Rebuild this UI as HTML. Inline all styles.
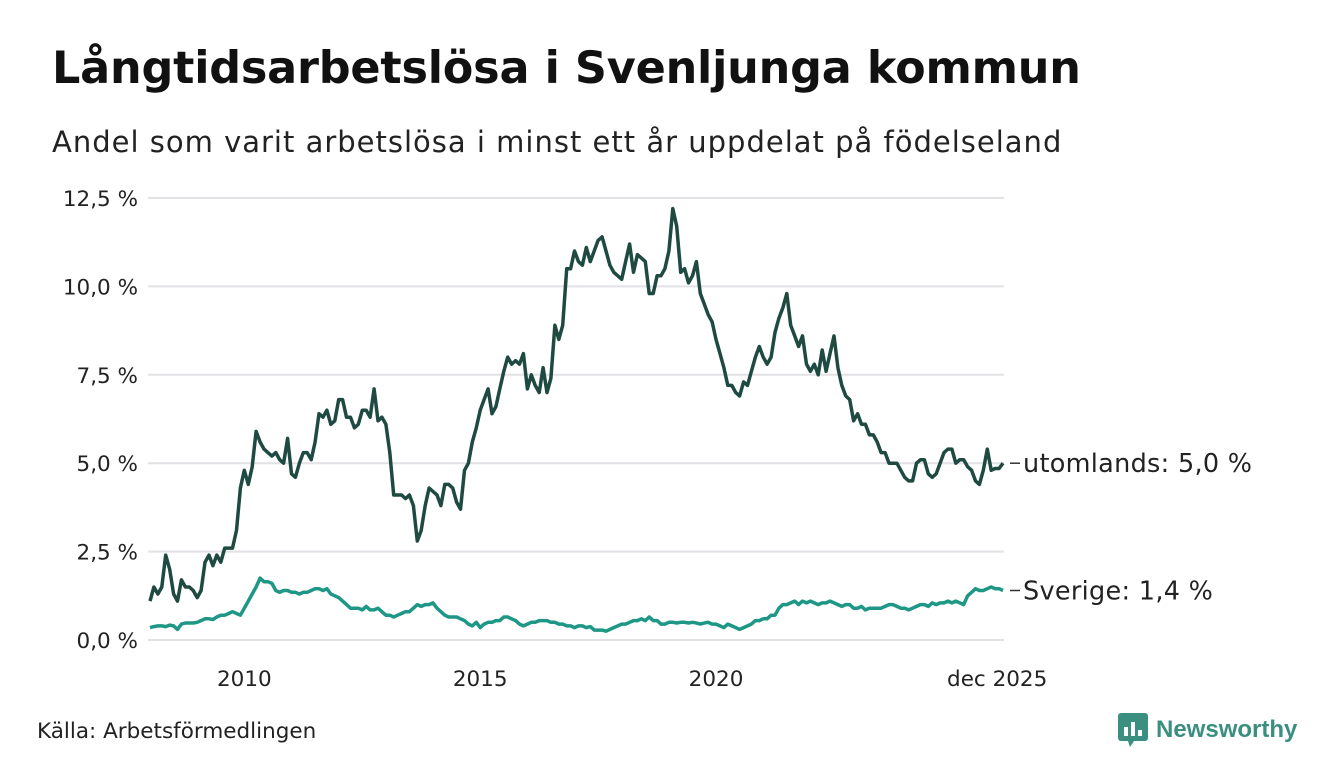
<!DOCTYPE html>
<html><head><meta charset="utf-8">
<style>
body{margin:0;background:#fff;font-family:"DejaVu Sans","Liberation Sans",sans-serif;}
#wrap{position:relative;width:1340px;height:780px;overflow:hidden;background:#fff}
h1{position:absolute;left:52px;top:43px;margin:0;font-size:44.5px;font-weight:bold;color:#111;font-family:"DejaVu Sans",sans-serif;letter-spacing:-0.2px}
.sub{position:absolute;left:52px;top:125px;font-size:29px;color:#222;font-family:"DejaVu Sans",sans-serif;letter-spacing:1px}
.src{position:absolute;left:37px;top:719px;font-size:21.5px;color:#222;font-family:"DejaVu Sans",sans-serif}
.logo{position:absolute;left:1118px;top:713px;display:flex;align-items:center;gap:8px}
.logo span{font-size:24px;font-weight:bold;color:#3a8f80;font-family:"Liberation Sans",sans-serif}
</style></head><body>
<div id="wrap">
<h1>Långtidsarbetslösa i Svenljunga kommun</h1>
<div class="sub">Andel som varit arbetslösa i minst ett år uppdelat på födelseland</div>
<svg id="chart" width="1340" height="780" style="position:absolute;left:0;top:0"></svg>
<div class="src">Källa: Arbetsförmedlingen</div>
<div class="logo">
<svg width="30" height="34" viewBox="0 0 30 34"><rect x="0" y="0" width="30" height="28" rx="3" fill="#3a8f80"/><polygon points="10,28 16,28 12,34" fill="#3a8f80"/><rect x="6" y="14" width="4" height="9" fill="#fff"/><rect x="13" y="9" width="4" height="14" fill="#fff"/><rect x="20" y="17" width="4" height="6" fill="#fff"/></svg>
<span>Newsworthy</span></div>
</div>
<script>
const yTicks=[0,2.5,5,7.5,10,12.5];
const yTickLabels=["0,0 %","2,5 %","5,0 %","7,5 %","10,0 %","12,5 %"];
const xTicks=[2010,2015,2020,2025.96];
const xTickLabels=["2010","2015","2020","dec 2025"];
const startYear=2008;
const utomlands=[1.1,1.5,1.3,1.5,2.4,2.0,1.3,1.1,1.7,1.5,1.5,1.4,
1.2,1.4,2.2,2.4,2.1,2.4,2.2,2.6,2.6,2.6,3.1,4.3,
4.8,4.4,4.9,5.9,5.6,5.4,5.3,5.2,5.3,5.1,5.0,5.7,
4.7,4.6,5.0,5.3,5.3,5.1,5.6,6.4,6.3,6.5,6.1,6.2,
6.8,6.8,6.3,6.3,6.0,6.1,6.5,6.5,6.3,7.1,6.2,6.3,
6.1,5.3,4.1,4.1,4.1,4.0,4.1,3.8,2.8,3.1,3.8,4.3,
4.2,4.1,3.8,4.4,4.4,4.3,3.9,3.7,4.8,5.0,5.6,6.0,
6.5,6.8,7.1,6.4,6.6,7.1,7.6,8.0,7.8,7.9,7.8,8.1,
7.1,7.5,7.2,7.0,7.7,7.0,7.4,8.9,8.5,8.9,10.5,10.5,
11.0,10.7,10.6,11.1,10.7,11.0,11.3,11.4,11.0,10.6,10.4,10.3,
10.2,10.7,11.2,10.4,10.9,10.8,10.7,9.8,9.8,10.3,10.3,10.5,
11.0,12.2,11.7,10.4,10.5,10.1,10.3,10.7,9.8,9.5,9.2,9.0,
8.5,8.1,7.7,7.2,7.2,7.0,6.9,7.3,7.2,7.6,8.0,8.3,
8.0,7.8,8.0,8.7,9.1,9.4,9.8,8.9,8.6,8.3,8.6,7.8,
7.6,7.8,7.5,8.2,7.6,8.1,8.6,7.7,7.2,6.9,6.8,6.2,
6.4,6.1,6.1,5.8,5.8,5.6,5.3,5.3,5.0,5.0,5.0,4.8,
4.6,4.5,4.5,5.0,5.1,5.1,4.7,4.6,4.7,5.0,5.3,5.4,
5.4,5.0,5.1,5.1,4.9,4.8,4.5,4.4,4.8,5.4,4.8,4.85,4.85,5.0];
const sverige=[0.35,0.38,0.4,0.4,0.38,0.42,0.4,0.3,0.45,0.48,0.48,0.48,
0.5,0.55,0.6,0.6,0.58,0.65,0.7,0.7,0.75,0.8,0.75,0.7,
0.9,1.1,1.3,1.5,1.75,1.65,1.65,1.6,1.4,1.35,1.4,1.4,
1.35,1.35,1.3,1.35,1.35,1.4,1.45,1.45,1.4,1.45,1.3,1.25,
1.2,1.1,1.0,0.9,0.9,0.9,0.85,0.95,0.85,0.85,0.9,0.8,
0.7,0.7,0.65,0.7,0.75,0.8,0.8,0.9,1.0,0.95,1.0,1.0,
1.05,0.9,0.8,0.7,0.65,0.65,0.65,0.6,0.55,0.45,0.4,0.5,
0.35,0.45,0.5,0.5,0.55,0.55,0.65,0.65,0.6,0.55,0.45,0.4,
0.45,0.5,0.5,0.55,0.55,0.55,0.5,0.5,0.45,0.45,0.4,0.4,
0.35,0.4,0.4,0.35,0.38,0.28,0.28,0.28,0.25,0.3,0.35,0.4,
0.45,0.45,0.5,0.55,0.55,0.6,0.55,0.65,0.55,0.55,0.45,0.45,
0.5,0.5,0.48,0.5,0.5,0.48,0.5,0.48,0.45,0.48,0.5,0.45,
0.45,0.4,0.35,0.45,0.4,0.35,0.3,0.35,0.4,0.45,0.55,0.55,
0.6,0.6,0.7,0.7,0.9,1.0,1.0,1.05,1.1,1.0,1.1,1.05,
1.1,1.05,1.0,1.05,1.05,1.1,1.05,1.0,0.95,1.0,1.0,0.9,
0.9,0.95,0.85,0.9,0.9,0.9,0.9,0.95,1.0,1.0,0.95,0.9,
0.9,0.85,0.9,0.95,1.0,1.0,0.95,1.05,1.0,1.05,1.05,1.1,
1.05,1.1,1.05,1.0,1.25,1.35,1.45,1.4,1.4,1.45,1.5,1.45,1.45,1.4];
const seriesNames=["utomlands","Sverige"];
const seriesLabels=["utomlands: 5,0 %","Sverige: 1,4 %"];

const NS="http://www.w3.org/2000/svg";
const svg=document.getElementById('chart');
const X0=150,X1=1003,Y0=640,Y1=198;
const n=utomlands.length;
function xYear(yr){return X0+(yr-startYear)*12*(X1-X0)/(n-1);}
function y(v){return Y0-v*(Y0-Y1)/12.5;}
function mk(t,a){const e=document.createElementNS(NS,t);for(const k in a)e.setAttribute(k,a[k]);svg.appendChild(e);return e;}
const FF='DejaVu Sans, Liberation Sans, sans-serif';
yTicks.forEach((t,i)=>{
 const l=mk('line',{x1:148,x2:1004,y1:y(t),y2:y(t),stroke:'#e2e2e6','stroke-width':2});
 
 
 const tx=mk('text',{x:138,y:y(t)+8,'text-anchor':'end','font-size':21.5,fill:'#222','font-family':FF});
 tx.textContent=yTickLabels[i];
 
 
});
xTicks.forEach((t,i)=>{
 const tx=mk('text',{x:xYear(t),y:686,'text-anchor':'middle','font-size':21.5,fill:'#222','font-family':FF});
 tx.textContent=xTickLabels[i];
 
 
});
const colors=['#1f4a42','#1f9786'];
[utomlands,sverige].forEach((s,k)=>{
 const m=s.length;
 const d=s.map((v,i)=>(i?'L':'M')+(X0+i*(X1-X0)/(m-1)).toFixed(1)+','+y(v).toFixed(1)).join('');
 const p=mk('path',{d:d,fill:'none',stroke:colors[k],'stroke-width':3.5,'stroke-linejoin':'round'});
 
 
 const ly=y(s[m-1]);
 const c=mk('line',{x1:1010,x2:1020,y1:ly,y2:ly,stroke:'#333','stroke-width':1.5});
 
 
 const t=mk('text',{x:1023,y:ly+9,'font-size':25.5,'letter-spacing':0.3,fill:'#222','font-family':FF});
 t.textContent=seriesLabels[k];
 
 
});
</script>
</body></html>
